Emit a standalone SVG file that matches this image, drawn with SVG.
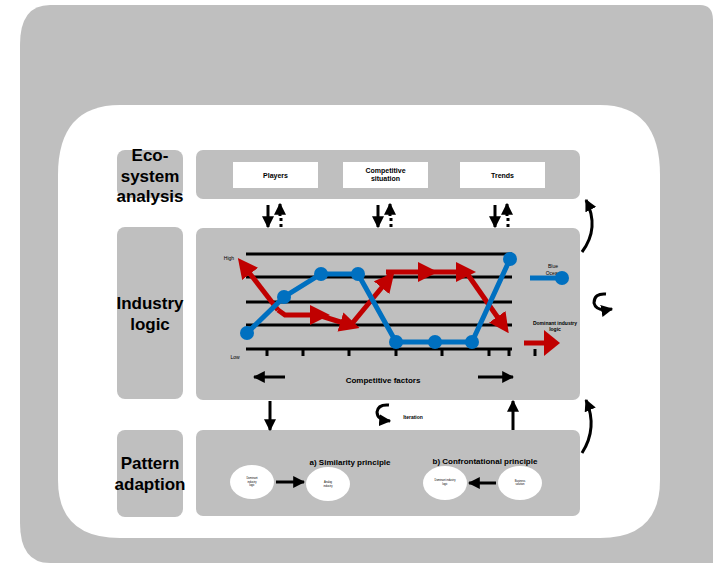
<svg xmlns="http://www.w3.org/2000/svg" width="713" height="563" viewBox="0 0 713 563">
<defs>
<style>
.g{fill:#bfbfbf}
.lbl{font-family:"Liberation Sans",Arial,sans-serif;font-weight:bold;font-size:17px;fill:#000;text-anchor:middle}
.sm{font-family:"Liberation Sans",Arial,sans-serif;font-weight:bold;font-size:7px;fill:#000;text-anchor:middle}
.tiny{font-family:"Liberation Sans",Arial,sans-serif;font-size:5px;fill:#000;text-anchor:middle}
.micro{font-family:"Liberation Sans",Arial,sans-serif;font-size:2.6px;fill:#000;text-anchor:middle}
.mid{font-family:"Liberation Sans",Arial,sans-serif;font-weight:bold;font-size:8px;fill:#000;text-anchor:middle}
.blk{stroke:#000;stroke-width:3;fill:none}
.grid{stroke:#000;stroke-width:3}
.red{stroke:#c00000;stroke-width:5;fill:none}
.blue{stroke:#0070c0;stroke-width:5;fill:none}
</style>
<marker id="ah" viewBox="0 0 10 10" refX="9" refY="5" markerWidth="4" markerHeight="4" orient="auto" markerUnits="strokeWidth"><path d="M0,0 L10,5 L0,10 z" fill="#000"/></marker>
<marker id="rh" viewBox="0 0 10 10" refX="5" refY="5" markerWidth="4" markerHeight="4" orient="auto" markerUnits="strokeWidth"><path d="M0,0 L10,5 L0,10 z" fill="#c00000"/></marker>
</defs>

<g id="frame">
<path class="g" d="M50,5 H700 Q713,5 713,20 V563 H50 Q20,563 20,523 V45 Q20,5 50,5 Z"/>
<path fill="#fff" d="M120,105 H600 Q660,105 660,175 V480 Q660,538 600,538 H120 Q58,538 58,480 V175 Q58,105 120,105 Z"/>
</g>

<g id="label-eco">
<rect class="g" x="117" y="150" width="66" height="48" rx="8"/>
<text class="lbl" x="150" y="161">Eco-</text>
<text class="lbl" x="150" y="182">system</text>
<text class="lbl" x="150" y="202">analysis</text>
</g>
<g id="label-industry">
<rect class="g" x="117" y="227" width="66" height="172" rx="8"/>
<text class="lbl" x="150" y="309">Industry</text>
<text class="lbl" x="150" y="330">logic</text>
</g>
<g id="label-pattern">
<rect class="g" x="117" y="430" width="66" height="87" rx="8"/>
<text class="lbl" x="150" y="469">Pattern</text>
<text class="lbl" x="150" y="490">adaption</text>
</g>

<g id="eco-panel">
<rect class="g" x="196" y="150" width="384" height="49" rx="7"/>
<rect fill="#fff" x="233" y="162" width="85" height="26"/>
<text class="sm" x="275.5" y="178">Players</text>
<rect fill="#fff" x="343" y="162" width="85" height="26"/>
<text class="sm" x="385.5" y="173">Competitive</text>
<text class="sm" x="385.5" y="181">situation</text>
<rect fill="#fff" x="460" y="162" width="85" height="26"/>
<text class="sm" x="502.5" y="178">Trends</text>
</g>

<g id="industry-panel">
<rect class="g" x="196" y="228" width="384" height="172" rx="7"/>
<g id="grid">
<line class="grid" x1="246" y1="254" x2="512" y2="254"/>
<line class="grid" x1="246" y1="277" x2="512" y2="277"/>
<line class="grid" x1="246" y1="302" x2="512" y2="302"/>
<line class="grid" x1="246" y1="325" x2="512" y2="325"/>
<line class="grid" x1="246" y1="349" x2="512" y2="349"/>
<path class="grid" d="M267,349V356M303,349V356M349,349V356M396,349V356M442,349V356M489,349V356M509,349V356M535,349V356"/>
</g>
<text class="tiny" x="229" y="260">High</text>
<text class="tiny" x="235" y="359">Low</text>
<g id="red-line">
<line class="red" x1="278" y1="310" x2="244" y2="266" marker-end="url(#rh)"/>
<polyline class="red" points="278,310 285,315 320,315" marker-end="url(#rh)"/>
<line class="red" x1="318" y1="315" x2="350" y2="325" marker-end="url(#rh)"/>
<line class="red" x1="350" y1="326" x2="388" y2="280" marker-end="url(#rh)"/>
<line class="red" x1="386" y1="272" x2="428" y2="272" marker-end="url(#rh)"/>
<line class="red" x1="426" y1="272" x2="466" y2="272" marker-end="url(#rh)"/>
<line class="red" x1="466" y1="272" x2="503" y2="325" marker-end="url(#rh)"/>
<line class="red" x1="390" y1="272" x2="388" y2="280"/>
</g>
<g id="blue-line">
<polyline class="blue" points="247,333 284,297 321,274 358,274 396,342 435,342 472,342 510,259"/>
<g fill="#0070c0">
<circle cx="247" cy="333" r="7"/><circle cx="284" cy="297" r="7"/><circle cx="321" cy="274" r="7"/><circle cx="358" cy="274" r="7"/>
<circle cx="396" cy="342" r="7"/><circle cx="435" cy="342" r="7"/><circle cx="472" cy="342" r="7"/><circle cx="510" cy="259" r="7"/>
</g>
</g>
<g id="legend">
<text class="tiny" x="553" y="268">Blue</text>
<text class="tiny" x="553" y="275">Ocean</text>
<line class="blue" x1="530" y1="278" x2="560" y2="278"/>
<circle cx="562" cy="278" r="7" fill="#0070c0"/>
<text class="tiny" x="555" y="325" font-weight="bold">Dominant industry</text>
<text class="tiny" x="555" y="331" font-weight="bold">logic</text>
<line x1="524" y1="343" x2="546" y2="343" stroke="#c00000" stroke-width="5"/>
<path d="M544,330 L560,343 L544,356 Z" fill="#c00000"/>
</g>
<line class="blk" x1="285" y1="377" x2="254" y2="377" marker-end="url(#ah)"/>
<line class="blk" x1="478" y1="377" x2="513" y2="377" marker-end="url(#ah)"/>
<text class="mid" x="383" y="383">Competitive factors</text>
</g>

<g id="pattern-panel">
<rect class="g" x="196" y="430" width="384" height="86" rx="7"/>
<text class="mid" x="350" y="465">a) Similarity principle</text>
<text class="mid" x="485" y="464">b) Confrontational principle</text>
<g id="e1"><ellipse cx="252" cy="482" rx="22" ry="17" fill="#fff"/>
<text class="micro" x="252" y="479">Dominant</text><text class="micro" x="252" y="482.5">industry</text><text class="micro" x="252" y="486">logic</text></g>
<g id="e2"><ellipse cx="328" cy="484" rx="22" ry="17" fill="#fff"/>
<text class="micro" x="328" y="483">Analog</text><text class="micro" x="328" y="486.5">industry</text></g>
<g id="e3"><ellipse cx="445" cy="483" rx="22" ry="17" fill="#fff"/>
<text class="micro" x="445" y="481">Dominant industry</text><text class="micro" x="445" y="484.5">logic</text></g>
<g id="e4"><ellipse cx="520" cy="483" rx="22" ry="17" fill="#fff"/>
<text class="micro" x="520" y="481.5">Business</text><text class="micro" x="520" y="485">solution</text></g>
<line class="blk" x1="276" y1="482" x2="304" y2="482" marker-end="url(#ah)"/>
<line class="blk" x1="496" y1="483" x2="469" y2="483" marker-end="url(#ah)"/>
</g>

<g id="connectors">
<line class="blk" x1="268" y1="205" x2="268" y2="227" marker-end="url(#ah)"/>
<line class="blk" x1="280" y1="216" x2="280" y2="204" marker-end="url(#ah)"/>
<line x1="281" y1="218" x2="281" y2="229" stroke="#000" stroke-width="3" stroke-dasharray="3,3"/>
<line class="blk" x1="378" y1="205" x2="378" y2="227" marker-end="url(#ah)"/>
<line class="blk" x1="390" y1="216" x2="390" y2="204" marker-end="url(#ah)"/>
<line x1="391" y1="218" x2="391" y2="229" stroke="#000" stroke-width="3" stroke-dasharray="3,3"/>
<line class="blk" x1="495" y1="205" x2="495" y2="227" marker-end="url(#ah)"/>
<line class="blk" x1="507" y1="216" x2="507" y2="204" marker-end="url(#ah)"/>
<line x1="508" y1="218" x2="508" y2="229" stroke="#000" stroke-width="3" stroke-dasharray="3,3"/>
<line class="blk" x1="270" y1="401" x2="270" y2="430" marker-end="url(#ah)"/>
<line class="blk" x1="513" y1="430" x2="513" y2="401" marker-end="url(#ah)"/>
<path class="blk" d="M389,405 Q378,404 377,412 Q377,420 390,421" marker-end="url(#ah)"/>
<text class="tiny" x="413" y="419" font-weight="bold" font-size="6.5">Iteration</text>
<path class="blk" d="M582,252 Q600,228 586,200" marker-end="url(#ah)"/>
<path class="blk" d="M582,453 Q598,428 586,400" marker-end="url(#ah)"/>
<path class="blk" d="M606,294 Q594,293 594,303 Q596,312 612,309" marker-end="url(#ah)"/>
</g>
</svg>
